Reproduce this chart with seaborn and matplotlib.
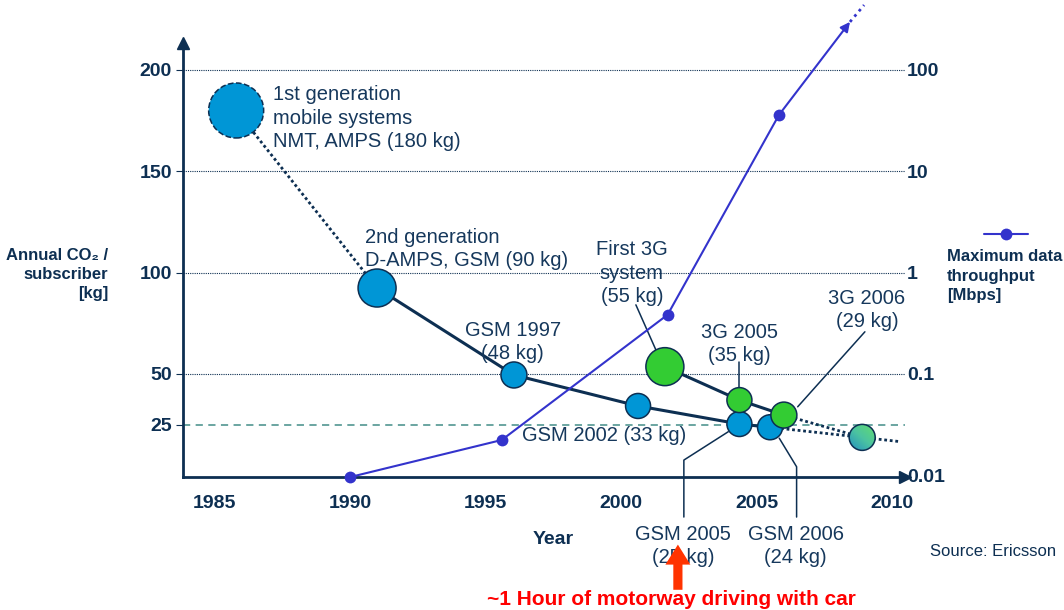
import numpy as np
import pandas as pd
import matplotlib
matplotlib.use("Agg")
import matplotlib.pyplot as plt
import seaborn as sns
from matplotlib.patches import Ellipse

# CO2 per subscriber (kg) - GSM / 2G track
gsm_names = ["2nd gen", "GSM 1997", "GSM 2002", "GSM 2005", "GSM 2006"]
gsm_years = [1991.0, 1996.05, 2000.63, 2004.37, 2005.5]
gsm_kg = [92.4, 49.5, 34.2, 25.3, 23.7]

# 1st generation
first_years = [1985.8]
first_kg = [180]

# 3G track
g3_names = ["First 3G", "3G 2005", "3G 2006"]
g3_years = [2001.62, 2004.37, 2006.01]
g3_kg = [53.6, 37.1, 29.7]

# future estimate + trend
future_years = [2008.9]
future_kg = [18.7]
trend_end_years = [2010.3]
trend_end_kg = [16.6]

# maximum data throughput (Mbps)
tp_years = [1990.0, 1995.6, 2001.72, 2005.83]
tp_mbps = [0.0096, 0.0223, 0.384, 36]
tp_trend_years = [2008.45, 2008.97]
tp_trend_mbps = [298, 437]

year_ticks = [1985, 1990, 1995, 2000, 2005, 2010]
kg_ticks = [25, 50, 100, 150, 200]
mbps_ticks = [0.01, 0.1, 1, 10, 100]
mbps_labels = ["0.01", "0.1", "1", "10", "100"]

NAVY = "#0d2f52"
TXT = "#16385c"
BLUE = "#0096d6"
GREEN = "#33cc33"
PURPLE = "#3333cc"
TEAL = "#5f9e9a"

sns.set_style("white")
plt.rcParams["font.family"] = ["Liberation Sans", "DejaVu Sans"]

fig = plt.figure(figsize=(10.64, 6.10), dpi=100)
ax = fig.add_axes([182.5 / 1064, (610 - 476.5) / 610, (905 - 182.5) / 1064, (476.5 - 43) / 610])
ax.set_xlim(1983.82, 2010.48)
ax.set_ylim(-0.6, 213.3)

# gridlines
ax.set_yticks(kg_ticks)
ax.set_yticklabels([str(t) for t in kg_ticks])
ax.grid(axis="y", color=NAVY, linestyle=(0, (1, 1)), linewidth=0.8)
ax.grid(axis="x", visible=False)
gl = ax.yaxis.get_gridlines()[0]
gl.set_linestyle((0, (4, 3)))
gl.set_color(TEAL)
gl.set_linewidth(1.3)

ax.set_xticks(year_ticks)
ax.tick_params(axis="x", length=0, pad=13.5, labelsize=14, labelcolor=NAVY)
ax.tick_params(axis="y", length=5, width=0.8, color=NAVY, pad=2.6, labelsize=14, labelcolor=NAVY)
for lab in ax.get_xticklabels() + ax.get_yticklabels():
    lab.set_fontweight("bold")

for s in ["top", "right"]:
    ax.spines[s].set_visible(False)
for s in ["left", "bottom"]:
    ax.spines[s].set_color(NAVY)
    ax.spines[s].set_linewidth(2)
ax.plot(1, 0, ">", color=NAVY, markersize=8, transform=ax.transAxes, clip_on=False)
ax.plot(0, 1, "^", color=NAVY, markersize=8, transform=ax.transAxes, clip_on=False)

# CO2 lines
sns.lineplot(x=first_years + gsm_years[:1], y=first_kg + gsm_kg[:1], ax=ax, color=NAVY,
             linewidth=2, linestyle=(0, (1, 1)), sort=False, estimator=None)
sns.lineplot(x=gsm_years, y=gsm_kg, ax=ax, color=NAVY, linewidth=2.2, sort=False, estimator=None)
sns.lineplot(x=g3_years, y=g3_kg, ax=ax, color=NAVY, linewidth=2.2, sort=False, estimator=None)
for yr, kg in [(g3_years[-1], g3_kg[-1]), (gsm_years[-1], gsm_kg[-1])]:
    sns.lineplot(x=[yr] + future_years, y=[kg] + future_kg, ax=ax, color=NAVY,
                 linewidth=2, linestyle=(0, (1, 1)), sort=False, estimator=None)
sns.lineplot(x=future_years + trend_end_years, y=future_kg + trend_end_kg, ax=ax, color=NAVY,
             linewidth=2, linestyle=(0, (1, 1)), sort=False, estimator=None)

def msize(r_px):
    return (2 * r_px * 0.72) ** 2

# bubbles
gsm_r = [19, 13, 12.5, 12.5, 12.5]
g3_r = [19, 12.5, 13]
sns.scatterplot(x=first_years, y=first_kg, ax=ax, s=msize(27.5), color=BLUE, edgecolor=NAVY,
                linewidth=1.1, linestyle="--", zorder=5)
sns.scatterplot(x=gsm_years, y=gsm_kg, ax=ax, s=[msize(r) for r in gsm_r], color=BLUE,
                edgecolor=NAVY, linewidth=1.1, zorder=5)
sns.scatterplot(x=g3_years, y=g3_kg, ax=ax, s=[msize(r) for r in g3_r], color=GREEN,
                edgecolor=NAVY, linewidth=1.1, zorder=6)

# gradient bubble for the future estimate
ell = Ellipse((future_years[0], future_kg[0]), 2 * 13.3 / 27.1, 2 * 12.8 / 2.027,
              transform=ax.transData, facecolor="none", edgecolor="none")
ax.add_patch(ell)
gx, gy = np.meshgrid(np.linspace(0, 1, 50), np.linspace(0, 1, 50))
grad = (gx + (1 - gy)) / 2
cmap = matplotlib.colors.LinearSegmentedColormap.from_list("bg", ["#1c86c8", "#4cc4a0", "#66e066"])
im = ax.imshow(grad, cmap=cmap, origin="upper", aspect="auto", zorder=5,
               extent=[future_years[0] - 0.6, future_years[0] + 0.6, future_kg[0] - 7, future_kg[0] + 7])
im.set_clip_path(ell)
sns.scatterplot(x=future_years, y=future_kg, ax=ax, s=msize(13), facecolor="none",
                edgecolor=NAVY, linewidth=1.1, zorder=6)
ax.set_xlim(1983.82, 2010.48)
ax.set_ylim(-0.6, 213.3)

# throughput on log axis
ax2 = ax.twinx()
ax2.set_yscale("log")
ax2.set_ylim(10 ** (-2 - 0.6 / 50), 10 ** (-2 + 213.3 / 50))
ax2.set_xlim(1983.82, 2010.48)
sns.lineplot(x=tp_years, y=tp_mbps, ax=ax2, color=PURPLE, linewidth=1.5, marker="o",
             markersize=8.5, markeredgewidth=0, sort=False, estimator=None, clip_on=False,
             label="Maximum data throughput")
ax2.annotate("", xy=(tp_trend_years[0], tp_trend_mbps[0]), xytext=(tp_years[-1], tp_mbps[-1]),
             arrowprops=dict(arrowstyle="-|>", color=PURPLE, lw=1.5, mutation_scale=14,
                             shrinkA=0, shrinkB=0), annotation_clip=False)
ax2.plot(tp_trend_years, tp_trend_mbps, color=PURPLE, linewidth=2, linestyle=(0, (1, 1.5)), clip_on=False)
ax2.set_yticks(mbps_ticks)
ax2.set_yticklabels(mbps_labels)
ax2.yaxis.set_minor_locator(matplotlib.ticker.NullLocator())
ax2.tick_params(axis="y", length=0, pad=1.5, labelsize=14, labelcolor=NAVY)
for lab in ax2.get_yticklabels():
    lab.set_fontweight("bold")
for s in ax2.spines.values():
    s.set_visible(False)
ax2.grid(False)
ax2.set_ylabel("")

# legend: handle only, text below
h, _ = ax2.get_legend_handles_labels()
if ax2.get_legend():
    ax2.get_legend().remove()
fig.legend(handles=h, labels=[""], loc="center", frameon=False, handlelength=2.6,
           bbox_to_anchor=(1004 / 1064 + 0.008, (610 - 235) / 610), fontsize=12)
fig.text(946.7 / 1064, (610 - 276) / 610, "Maximum data\nthroughput\n[Mbps]", ha="left", va="center",
         fontsize=12, fontweight="bold", color=NAVY, linespacing=1.38)

# annotations
ann = dict(color=TXT, fontsize=14.5, linespacing=1.3)
ax.text(1987.15, 176.1, "1st generation\nmobile systems\nNMT, AMPS (180 kg)", ha="left", va="center", **ann)
ax.text(1990.55, 111.6, "2nd generation\nD-AMPS, GSM (90 kg)", ha="left", va="center", **ann)
ax.text(1996.0, 65.8, "GSM 1997\n(48 kg)", ha="center", va="center", **ann)
ax.text(2000.4, 99.6, "First 3G\nsystem\n(55 kg)", ha="center", va="center", **ann)
ax.text(2004.37, 64.8, "3G 2005\n(35 kg)", ha="center", va="center", **ann)
ax.text(2009.08, 81.5, "3G 2006\n(29 kg)", ha="center", va="center", **ann)
ax.text(1996.34, 19.4, "GSM 2002 (33 kg)", ha="left", va="center", **ann)
ax.text(2002.3, -34.8, "GSM 2005\n(25 kg)", ha="center", va="center", clip_on=False, **ann)
ax.text(2006.44, -34.8, "GSM 2006\n(24 kg)", ha="center", va="center", clip_on=False, **ann)

leaders = [
    ([2000.55, 2001.29], [84.1, 61.8]),
    ([2004.37, 2004.37], [56.0, 43.1]),
    ([2009.0, 2006.52], [70.8, 33.8]),
    ([2002.32, 2002.32, 2003.96], [-20.6, 7.5, 21.5]),
    ([2006.48, 2006.48, 2005.84], [-20.6, 4.2, 18.3]),
]
for lx, ly in leaders:
    ax.plot(lx, ly, color=NAVY, linewidth=1.1, clip_on=False, zorder=4)

# red arrow + caption
ax.annotate("", xy=(2002.1, -34.2), xytext=(2002.1, -56.5), annotation_clip=False,
            arrowprops=dict(arrowstyle="simple,head_width=1.5,head_length=1.2,tail_width=0.55",
                            color="#ff3300", lw=0, shrinkA=0, shrinkB=0, mutation_scale=12))
fig.text(671 / 1064, 5 / 610, "~1 Hour of motorway driving with car", ha="center", va="baseline",
         fontsize=15, fontweight="bold", color="#ff0000")

fig.text(108.5 / 1064, (610 - 274.5) / 610, "Annual CO\u2082 /\nsubscriber\n[kg]", ha="right", va="center",
         multialignment="right", fontsize=12, fontweight="bold", color=NAVY, linespacing=1.3)
fig.text(553 / 1064, (610 - 540) / 610, "Year", ha="center", va="center", fontsize=14,
         fontweight="bold", color=NAVY)
fig.text(993 / 1064, (610 - 551.5) / 610, "Source: Ericsson", ha="center", va="center",
         fontsize=12, color=NAVY)

fig.savefig("out.png", dpi=100)
